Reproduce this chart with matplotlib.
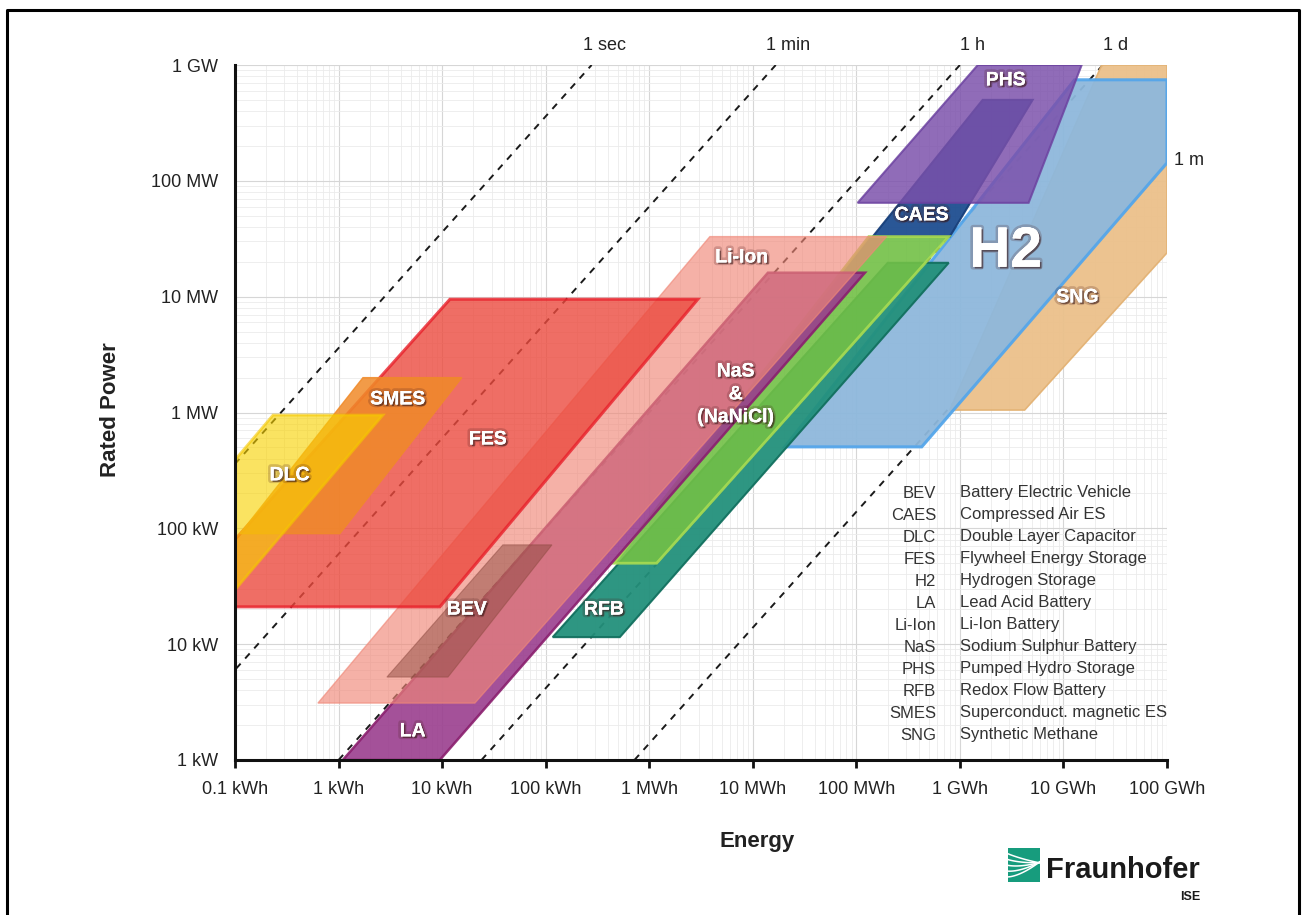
import numpy as np
import matplotlib.pyplot as plt
from matplotlib.patches import Polygon, Rectangle
from matplotlib.lines import Line2D
from matplotlib.ticker import LogLocator, NullFormatter
import matplotlib.patheffects as pe

plt.rcParams['font.family'] = ['Liberation Sans', 'DejaVu Sans']

# outlines of the storage technologies, (energy [kWh], rated power [kW])
sng = [(7.98e5, 1050), (4.22e6, 1050), (1e8, 2.39e4), (1e8, 1e6), (2.34e7, 1e6)]
h2 = [(2.04e4, 505), (4.28e5, 505), (1e8, 1.43e5), (1e8, 7.45e5), (1.28e7, 7.45e5)]
caes = [(1.44e5, 3.3e4), (7.98e5, 3.3e4), (5.04e6, 5.0e5), (1.66e6, 5.0e5)]
phs = [(1.03e5, 6.46e4), (4.61e6, 6.46e4), (1.50e7, 1e6), (1.49e6, 1e6)]
rfb = [(117, 11.5), (520, 11.5), (7.8e5, 1.96e4), (2.01e5, 1.96e4)]
nanicl = [(455, 50), (1180, 50), (7.8e5, 3.3e4), (1.32e5, 3.3e4)]
la = [(1.10, 1.0), (9.5, 1.0), (1.21e5, 1.61e4), (1.40e4, 1.61e4)]
liion = [(0.632, 3.1), (20.7, 3.1), (1.96e5, 3.3e4), (3.85e3, 3.3e4)]
bev = [(2.93, 5.2), (11.4, 5.2), (115, 72), (38.6, 72)]
fes = [(0.1, 21), (9.5, 21), (2945, 9500), (11.9, 9500), (0.1, 80)]
smes = [(0.112, 90), (1.03, 90), (15.5, 2000), (1.72, 2000)]
dlc = [(0.1, 29.4), (2.68, 950), (0.233, 950), (0.1, 390)]

# discharge durations in hours
durations = [1 / 3600, 1 / 60, 1, 24, 720]
duration_labels = ['1 sec', '1 min', '1 h', '1 d', '1 m']

energy_ticks = [0.1, 1, 10, 100, 1e3, 1e4, 1e5, 1e6, 1e7, 1e8]
energy_labels = ['0.1 kWh', '1 kWh', '10 kWh', '100 kWh', '1 MWh', '10 MWh',
                 '100 MWh', '1 GWh', '10 GWh', '100 GWh']
power_ticks = [1, 10, 100, 1e3, 1e4, 1e5, 1e6]
power_labels = ['1 kW', '10 kW', '100 kW', '1 MW', '10 MW', '100 MW', '1 GW']

abbrevs = ['BEV', 'CAES', 'DLC', 'FES', 'H2', 'LA', 'Li-Ion', 'NaS', 'PHS',
           'RFB', 'SMES', 'SNG']
names = ['Battery Electric Vehicle', 'Compressed Air ES', 'Double Layer Capacitor',
         'Flywheel Energy Storage', 'Hydrogen Storage', 'Lead Acid Battery',
         'Li-Ion Battery', 'Sodium Sulphur Battery', 'Pumped Hydro Storage',
         'Redox Flow Battery', 'Superconduct. magnetic ES', 'Synthetic Methane']

W, H = 1306, 915
fig = plt.figure(figsize=(W / 100, H / 100), dpi=100)
ax = fig.add_axes([235 / W, 1 - 760 / H, (1167 - 235) / W, (760 - 65) / H])
ax.set_xscale('log')
ax.set_yscale('log')
ax.set_xlim(0.1, 1e8)
ax.set_ylim(1, 1e6)

# log grid
for axis in (ax.xaxis, ax.yaxis):
    axis.set_minor_locator(LogLocator(base=10, subs=np.arange(2, 10), numticks=100))
    axis.set_minor_formatter(NullFormatter())
ax.grid(which='major', color='#d6d6d6', lw=0.8, zorder=0)
ax.grid(which='minor', color='#ebebeb', lw=0.6, zorder=0)
ax.set_axisbelow(True)

# constant discharge-time lines
p = np.array([1, 1e6])
for t, lab in zip(durations, duration_labels):
    ax.plot(p * t, p, ls=(0, (3.5, 3.5)), color='#1a1a1a', lw=1.4, zorder=1)
    if p[-1] * t <= 1e8:
        ax.annotate(lab, xy=(p[-1] * t, 1e6), xytext=(9, 14), textcoords='offset points',
                    ha='center', va='center', fontsize=13, color='#222222',
                    annotation_clip=False)
    else:
        ax.annotate(lab, xy=(1e8, 1e8 / t), xytext=(16, 3), textcoords='offset points',
                    ha='center', va='center', fontsize=13, color='#222222',
                    annotation_clip=False)

layers = [
    (sng, '#EBC08A', '#E3B274', 0.95, 1.2),
    (h2, '#8EB8DC', '#55A6EA', 0.95, 2.2),
    (caes, '#1E4E90', '#173F7A', 0.95, 1.5),
    (phs, '#7B50AB', '#6C42A0', 0.84, 1.5),
    (rfb, '#23907B', '#12705F', 0.95, 1.5),
    (nanicl, '#72C046', '#A9DC52', 0.9, 2.0),
    (la, '#9A3E8E', '#8A1F6E', 0.9, 1.8),
    (liion, '#F08878', '#F08878', 0.65, 1.0),
    (bev, '#8E4A40', '#8E4A40', 0.5, 0.8),
    (fes, '#EC4A3E', '#E8202A', 0.8, 2.2),
    (smes, '#F08A28', '#F08A28', 0.85, 1.0),
    (dlc, '#F8D200', '#F5C800', 0.62, 2.0),
]
for z, (verts, fc, ec, a, lw) in enumerate(layers):
    ax.add_patch(Polygon(verts, closed=True, facecolor=fc, edgecolor=ec,
                         alpha=a, lw=lw, zorder=2 + z * 0.1))

# technology labels
shadow = [pe.withStroke(linewidth=4, foreground=(0.3, 0.12, 0.12, 0.22)),
          pe.withSimplePatchShadow(offset=(1.2, -1.2), shadow_rgbFace=(0.2, 0.08, 0.08), alpha=0.55),
          pe.Normal()]
tech_labels = [
    ('PHS', 2.77e6, 7.3e5, 14), ('CAES', 4.28e5, 4.99e4, 14), ('H2', 2.77e6, 2.44e4, 41),
    ('Li-Ion', 7.83e3, 2.16e4, 14), ('SNG', 1.37e7, 9.77e3, 14), ('FES', 27.7, 580, 14),
    ('SMES', 3.74, 1285, 14), ('DLC', 0.336, 284, 14), ('NaS\n&\n(NaNiCl)', 6.85e3, 1420, 14),
    ('BEV', 17.3, 19.7, 14), ('RFB', 365, 19.7, 14), ('LA', 5.2, 1.75, 14),
]
for txt, e, pw, fs in tech_labels:
    ax.text(e, pw, txt, ha='center', va='center', fontsize=fs, fontweight='bold',
            color='white', linespacing=1.45, zorder=10, path_effects=shadow)

# axes styling
for s in ('top', 'right'):
    ax.spines[s].set_visible(False)
for s in ('left', 'bottom'):
    ax.spines[s].set_linewidth(2.2)
    ax.spines[s].set_color('#111111')
    ax.spines[s].set_zorder(12)
ax.set_xticks(energy_ticks)
ax.set_xticklabels(energy_labels)
ax.set_yticks(power_ticks)
ax.set_yticklabels(power_labels)
ax.tick_params(axis='x', which='major', direction='out', length=6, width=2,
               color='#111111', labelsize=13, pad=9, labelcolor='#222222')
ax.tick_params(axis='y', which='major', length=0, labelsize=13, pad=12,
               labelcolor='#222222')
ax.tick_params(which='minor', length=0)

fig.text(757 / W, 1 - 842 / H, 'Energy', ha='center', va='center',
         fontsize=16, fontweight='bold', color='#222222')
fig.text(110 / W, 1 - 410 / H, 'Rated Power', ha='center', va='center',
         rotation=90, fontsize=16, fontweight='bold', color='#222222')

# abbreviation key
for i, (ab, nm) in enumerate(zip(abbrevs, names)):
    y = 1 - (493 + 22 * i) / H
    fig.text(936 / W, y, ab, ha='right', va='center', fontsize=12, color='#333333')
    fig.text(960 / W, y, nm, ha='left', va='center', fontsize=12, color='#333333')

# Fraunhofer logo
logo = fig.add_axes([1008 / W, 1 - 882 / H, 32 / W, 34 / H])
logo.axis('off')
logo.add_patch(Rectangle((0, 0), 1, 1, facecolor='#179C7D', edgecolor='none'))
for k in range(5):
    s = np.linspace(0, 1, 30)
    logo.plot(s, 0.15 + 0.17 * k + (0.45 - 0.08 * k) * s ** 1.6 - 0.1 * k * s,
              color='white', lw=1.1)
logo.set_xlim(0, 1)
logo.set_ylim(0, 1)
fig.text(1046 / W, 1 - 878 / H, 'Fraunhofer', ha='left', va='baseline',
         fontsize=21, fontweight='bold', color='#1a1a1a')
fig.text(1190 / W, 1 - 897 / H, 'ISE', ha='center', va='center',
         fontsize=9, fontweight='bold', color='#1a1a1a')

# outer frame
fig.add_artist(Line2D([7 / W, 7 / W, 1299 / W, 1299 / W], [0, 1 - 10 / H, 1 - 10 / H, 0],
                      color='black', lw=2.2))

fig.savefig('out.png', dpi=100)
